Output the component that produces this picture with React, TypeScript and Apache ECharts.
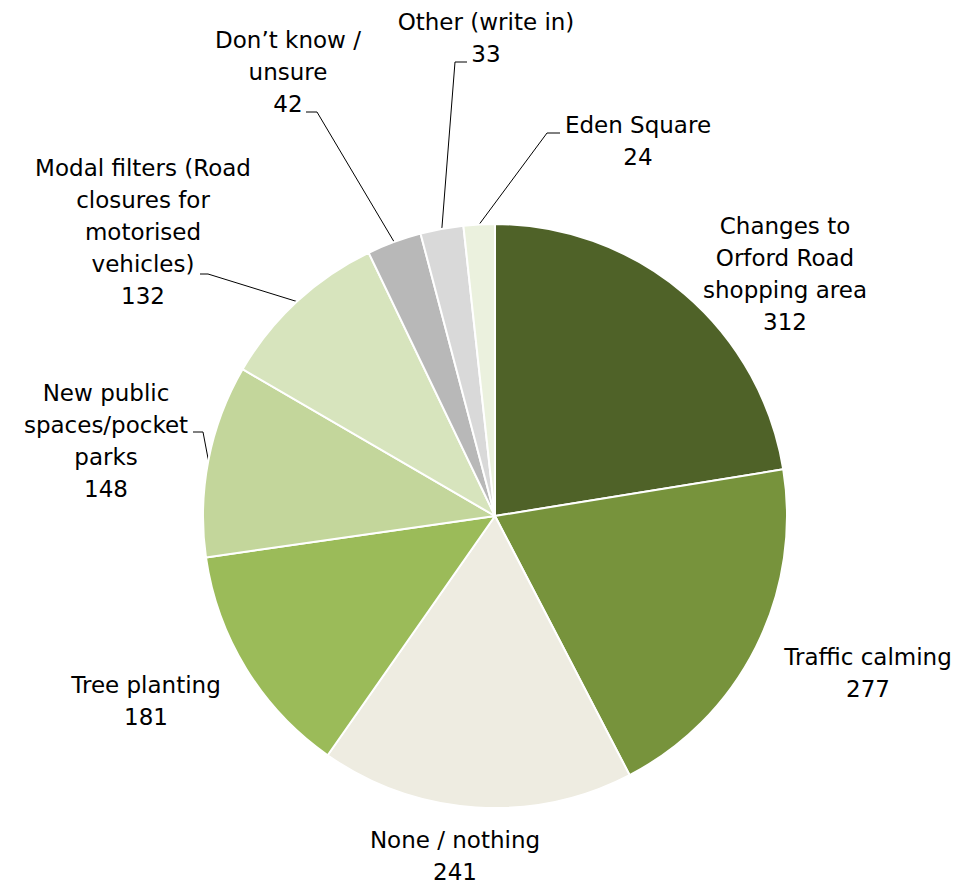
import React, { useEffect, useRef } from "react";
import * as echarts from "echarts";

const categories = [
  "Changes to\nOrford Road\nshopping area",
  "Traffic calming",
  "None / nothing",
  "Tree planting",
  "New public\nspaces/pocket\nparks",
  "Modal filters (Road\nclosures for\nmotorised\nvehicles)",
  "Don\u2019t know /\nunsure",
  "Other (write in)",
  "Eden Square",
];
const values = [312, 277, 241, 181, 148, 132, 42, 33, 24];
const colors = [
  "#4F6228",
  "#77933C",
  "#EEECE1",
  "#9BBB59",
  "#C3D69B",
  "#D7E4BD",
  "#B8B8B8",
  "#D9D9D9",
  "#EBF1DE",
];

// label block centres (layout only)
const labelPos: [number, number][] = [
  [785, 274],
  [868, 673],
  [455, 856],
  [146, 701],
  [106, 441],
  [143, 232],
  [288, 72],
  [486, 38],
  [638, 141],
];
// leader line elbows and ends (null = no leader line)
const leader: ([number, number, number, number] | null)[] = [
  null,
  null,
  null,
  null,
  [203, 432, 193, 432],
  [208, 274, 200, 274],
  [317, 112, 306, 112],
  [455, 62, 467, 62],
  [547, 133, 560, 133],
];

export default function App() {
  const ref = useRef<HTMLDivElement>(null);
  useEffect(() => {
    document.body.style.margin = "0";
    const chart = echarts.init(ref.current!, null, { renderer: "svg" });
    const cx = 495;
    const cy = 516;
    const R = 292;
    const total = values.reduce((a, b) => a + b, 0);
    chart.setOption({
      animation: false,
      backgroundColor: "#ffffff",
      series: [
        {
          type: "pie",
          center: [cx, cy],
          radius: [0, R],
          startAngle: 90,
          clockwise: true,
          avoidLabelOverlap: false,
          itemStyle: { borderColor: "#ffffff", borderWidth: 2 },
          label: {
            show: true,
            position: "outside",
            formatter: "{b}\n{c}",
            color: "#000000",
            fontFamily: "DejaVu Sans",
            fontSize: 23,
            lineHeight: 32,
            align: "center",
          },
          labelLine: {
            show: true,
            length: 10,
            length2: 10,
            lineStyle: { color: "#000000", width: 1 },
          },
          labelLayout: (params: any) => {
            const i = params.dataIndex;
            const p = labelPos[i];
            const l = leader[i];
            const out: any = {
              x: p[0],
              y: p[1],
              align: "center",
              verticalAlign: "middle",
            };
            if (l) {
              let start = params.labelLinePoints && params.labelLinePoints[0];
              if (!start) {
                let before = 0;
                for (let k = 0; k < i; k++) before += values[k];
                const mid = ((before + values[i] / 2) / total) * Math.PI * 2;
                start = [cx + R * Math.sin(mid), cy - R * Math.cos(mid)];
              }
              out.labelLinePoints = [
                [start[0], start[1]],
                [l[0], l[1]],
                [l[2], l[3]],
              ];
            }
            return out;
          },
          data: categories.map((name, i) => ({
            name,
            value: values[i],
            itemStyle: { color: colors[i] },
            labelLine: { show: leader[i] !== null },
          })),
        },
      ],
    });
    return () => chart.dispose();
  }, []);
  return <div ref={ref} style={{ width: 958, height: 886 }} />;
}
